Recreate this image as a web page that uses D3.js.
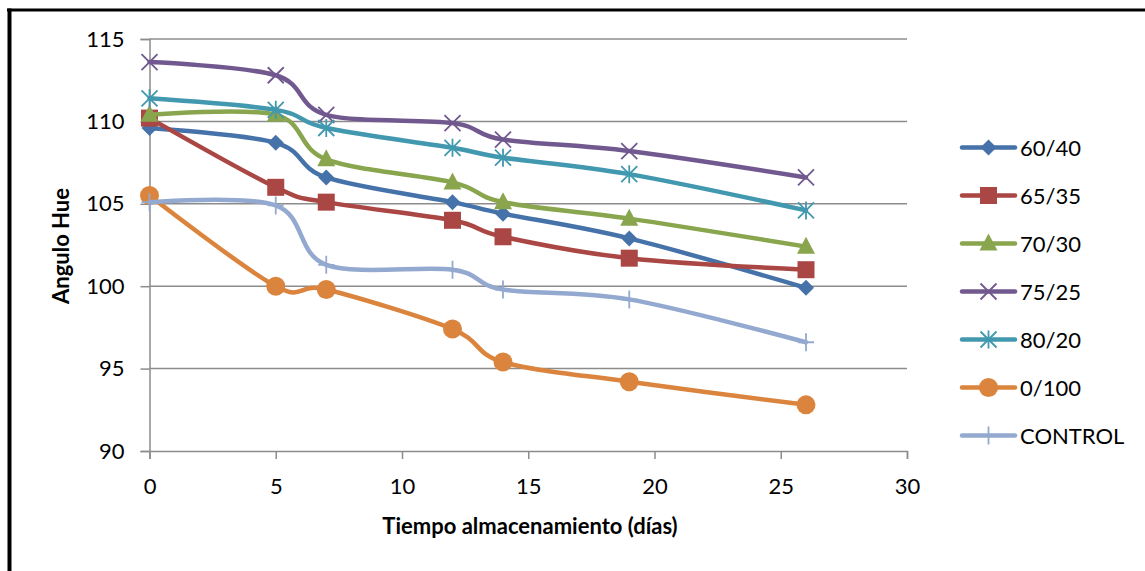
<!DOCTYPE html>
<html>
<head>
<meta charset="utf-8">
<script src="https://cdn.jsdelivr.net/npm/d3@7"></script>
<style>
  body { margin: 0; background: #fff; }
  text { font-family: Lato, "Open Sans", sans-serif; fill: #000; }
</style>
</head>
<body>
<div id="chart"></div>
<script>
// days of storage
let days = [0, 5, 7, 12, 14, 19, 26];

let s6040 = [109.6, 108.7, 106.6, 105.1, 104.4, 102.9, 99.9];
let s6535 = [110.2, 106.0, 105.1, 104.0, 103.0, 101.7, 101.0];
let s7030 = [110.4, 110.4, 107.7, 106.3, 105.1, 104.1, 102.4];
let s7525 = [113.6, 112.8, 110.4, 109.9, 108.9, 108.2, 106.6];
let s8020 = [111.4, 110.7, 109.6, 108.4, 107.8, 106.8, 104.6];
let s0100 = [105.5, 100.0, 99.8, 97.4, 95.4, 94.2, 92.8];
let sControl = [105.1, 104.9, 101.3, 101.0, 99.8, 99.2, 96.6];

let seriesNames = ['60/40', '65/35', '70/30', '75/25', '80/20', '0/100', 'CONTROL'];
let seriesColors = ['#4672AA', '#AA4643', '#89A54E', '#71588F', '#4198AF', '#DB843D', '#93A9CF'];
let seriesMarkers = ['diamond', 'square', 'triangle', 'x', 'asterisk', 'circle', 'plus'];
let allValues = [s6040, s6535, s7030, s7525, s8020, s0100, sControl];

let xTicks = [0, 5, 10, 15, 20, 25, 30];
let yTicks = [90, 95, 100, 105, 110, 115];

let width = 1145;
let height = 571;
let plotLeft = 149.5, plotRight = 907, plotTop = 39, plotBottom = 451;

let svg = d3.select('#chart').append('svg').attr('width', width).attr('height', height);

// frame (only top and left edges visible)
svg.append('line').attr('x1', 7).attr('x2', width).attr('y1', 10).attr('y2', 10)
  .style('stroke', '#000').style('stroke-width', 3);
svg.append('line').attr('x1', 9.5).attr('x2', 9.5).attr('y1', 8.5).attr('y2', height)
  .style('stroke', '#000').style('stroke-width', 4);

let x = d3.scaleLinear().domain([0, 30]).range([plotLeft, plotRight]);
let y = d3.scaleLinear().domain([90, 115]).range([plotBottom, plotTop]);

// gridlines
svg.append('g').selectAll('line').data(yTicks.slice(1)).join('line')
  .attr('x1', plotLeft).attr('x2', plotRight)
  .attr('y1', d => y(d)).attr('y2', d => y(d))
  .style('stroke', '#8c8c8c').style('stroke-width', 1.5);

// axes
let yAxis = d3.axisLeft(y).tickValues(yTicks).tickSize(9).tickPadding(16);
let gy = svg.append('g').attr('transform', `translate(${plotLeft},0)`).call(yAxis);
let xAxis = d3.axisBottom(x).tickValues(xTicks).tickSize(8).tickPadding(19);
let gx = svg.append('g').attr('transform', `translate(0,${plotBottom})`).call(xAxis);
[gy, gx].forEach(g => {
  g.select('.domain').style('stroke', '#8c8c8c').style('stroke-width', 1.5);
  g.selectAll('.tick line').style('stroke', '#8c8c8c').style('stroke-width', 1.5);
  g.selectAll('.tick text').style('font-size', '22px').style('font-family', 'Lato, sans-serif').attr('fill', '#000');
});

// axis titles
svg.append('text').attr('transform', 'translate(69,246) rotate(-90)')
  .attr('text-anchor', 'middle').style('font-size', '22px').style('font-weight', 'bold').text('Angulo Hue');
svg.append('text').attr('x', 530).attr('y', 534)
  .attr('text-anchor', 'middle').style('font-size', '22px').style('font-weight', 'bold')
  .text('Tiempo almacenamiento (días)');

let lineGenerator = d3.line().curve(d3.curveCardinal.tension(0))
  .x(d => x(d[0])).y(d => y(d[1]));

function drawMarker(g, type, color, cx, cy) {
  if (type === 'diamond') {
    g.append('path').attr('d', `M${cx},${cy - 8}L${cx + 8},${cy}L${cx},${cy + 8}L${cx - 8},${cy}Z`)
      .style('fill', color);
  } else if (type === 'square') {
    g.append('rect').attr('x', cx - 8.5).attr('y', cy - 8.5).attr('width', 17).attr('height', 17)
      .style('fill', color);
  } else if (type === 'triangle') {
    g.append('path').attr('d', `M${cx},${cy - 10}L${cx + 9},${cy + 7}L${cx - 9},${cy + 7}Z`)
      .style('fill', color);
  } else if (type === 'circle') {
    g.append('circle').attr('cx', cx).attr('cy', cy).attr('r', 9.5).style('fill', color);
  } else if (type === 'x') {
    g.append('path').attr('d', `M${cx - 8},${cy - 8}L${cx + 8},${cy + 8}M${cx - 8},${cy + 8}L${cx + 8},${cy - 8}`)
      .style('stroke', color).style('stroke-width', 1.8).style('fill', 'none');
  } else if (type === 'asterisk') {
    g.append('path').attr('d', `M${cx - 8},${cy - 8}L${cx + 8},${cy + 8}M${cx - 8},${cy + 8}L${cx + 8},${cy - 8}M${cx},${cy - 9}L${cx},${cy + 9}`)
      .style('stroke', color).style('stroke-width', 1.8).style('fill', 'none');
  } else if (type === 'plus') {
    g.append('path').attr('d', `M${cx - 8},${cy}L${cx + 8},${cy}M${cx},${cy - 9}L${cx},${cy + 9}`)
      .style('stroke', color).style('stroke-width', 1.8).style('fill', 'none');
  }
}

// series
allValues.forEach((vals, i) => {
  let pts = days.map((d, j) => [d, vals[j]]);
  let g = svg.append('g');
  g.append('path').attr('d', lineGenerator(pts))
    .style('fill', 'none').style('stroke', seriesColors[i]).style('stroke-width', 4.5)
    .style('stroke-linejoin', 'round').style('stroke-linecap', 'round');
  pts.forEach(p => drawMarker(g, seriesMarkers[i], seriesColors[i], x(p[0]), y(p[1])));
});

// legend
let legendTop = 147.5, legendStep = 48;
seriesNames.forEach((name, i) => {
  let ly = legendTop + i * legendStep;
  let g = svg.append('g');
  g.append('line').attr('x1', 962).attr('x2', 1015).attr('y1', ly).attr('y2', ly)
    .style('stroke', seriesColors[i]).style('stroke-width', 4.5).style('stroke-linecap', 'round');
  drawMarker(g, seriesMarkers[i], seriesColors[i], 988.5, ly);
  g.append('text').attr('x', 1020).attr('y', ly + 8).style('font-size', '22px').text(name);
});
</script>
</body>
</html>
